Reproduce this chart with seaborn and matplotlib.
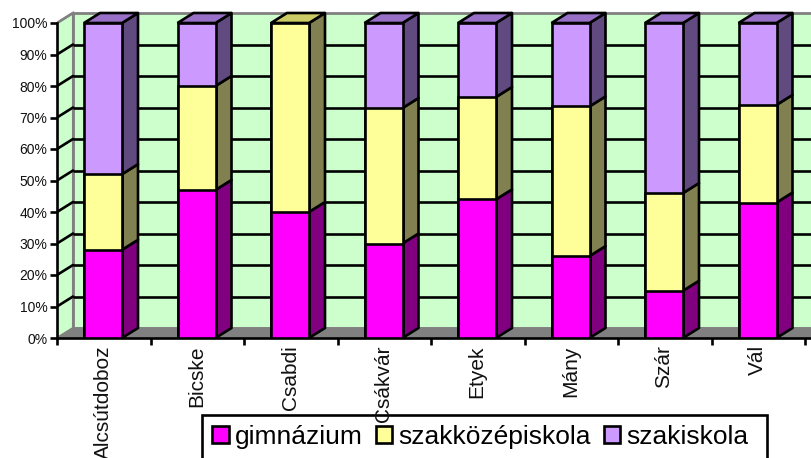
# -*- coding: utf-8 -*-
import pandas as pd
import seaborn as sns
import matplotlib.pyplot as plt
from matplotlib.patches import Polygon, Rectangle

# adatok
telepules = ['Alcsútdoboz', 'Bicske', 'Csabdi', 'Csákvár', 'Etyek', 'Mány', 'Szár', 'Vál']
gimnazium = [28, 47, 40, 30, 44, 26, 15, 43]
szakkozep = [24, 33, 60, 43, 32.5, 47.5, 31, 31]
szakiskola = [48, 20, 0, 27, 23.5, 26.5, 54, 26]
yticks = list(range(0, 101, 10))

series = ['gimnázium', 'szakközépiskola', 'szakiskola']
front = ['#FF00FF', '#FFFF99', '#CC99FF']
side = ['#800080', '#808050', '#604A80']
top = ['#CC00CC', '#CCCC66', '#9970C8']

W, H = 811, 458
sns.set_style('white')
plt.rcParams['font.family'] = ['Liberation Sans', 'DejaVu Sans']

fig = plt.figure(figsize=(W / 100, H / 100), dpi=100)
ax = fig.add_axes([57 / W, 1 - 338 / H, 1 - 57 / W, 338 / H])

cat_w = 93.5
unit = 3.15
dx = 16 / cat_w  # melyseg
dy = 10 / unit
bar_w = 38 / cat_w
lw = 1.9

df = pd.DataFrame({'telepules': telepules, 'g': gimnazium, 'k': szakkozep, 's': szakiskola})
df['k2'] = df['g'] + df['k']
df['s2'] = df['k2'] + df['s']

# 100%-os halmozott oszlop: hatulrol elore rajzolva
for col, c in zip(['s2', 'k2', 'g'], [front[2], front[1], front[0]]):
    sns.barplot(data=df, x='telepules', y=col, color=c, width=bar_w, saturation=1,
                edgecolor='black', linewidth=lw, ax=ax, zorder=5)

ax.set_xlim(-0.5, -0.5 + (W - 57) / cat_w)
ax.set_ylim(0, 338 / unit)

x0, x1 = ax.get_xlim()
# hatso fal, oldalfal, padlo
ax.add_patch(Rectangle((x0 + dx, dy), x1 - x0, 100, fc='#CCFFCC', ec='#808080', lw=2, zorder=1))
ax.add_patch(Polygon([(x0, 0), (x0 + dx, dy), (x0 + dx, 100 + dy), (x0, 100)],
                     fc='#CCFFCC', ec='#808080', lw=1.5, zorder=1))
ax.add_patch(Polygon([(x0, 0), (x0 + dx, dy), (x1 + 1, dy), (x1 + 1, 0)],
                     fc='#808080', ec='#808080', lw=1, zorder=1.5))

for v in yticks[1:-1]:
    ax.plot([x0 + dx, x1], [v + dy, v + dy], color='black', lw=lw, zorder=2, solid_capstyle='butt')
for v in yticks[1:]:
    ax.plot([x0, x0 + dx], [v, v + dy], color='black' if v < 100 else '#808080', lw=lw, zorder=2)

# oszlopok oldala es teteje
for i in range(len(telepules)):
    l, r = i - bar_w / 2 - 0.008, i + bar_w / 2 - 0.008
    base = 0
    for vals, fc_s, fc_t in zip([gimnazium, szakkozep, szakiskola], side, top):
        v = vals[i]
        if v > 0:
            ax.add_patch(Polygon([(r, base), (r + dx, base + dy), (r + dx, base + v + dy), (r, base + v)],
                                 fc=fc_s, ec='black', lw=lw, zorder=4, joinstyle='round'))
        base += v
        if v > 0:
            last = fc_t
    ax.add_patch(Polygon([(l, base), (l + dx, base + dy), (r + dx, base + dy), (r, base)],
                         fc=last, ec='black', lw=lw, zorder=4))

for b in ax.patches:
    if isinstance(b, Rectangle) and b.get_zorder() == 5:
        b.set_x(b.get_x() - 0.008)

ax.set_yticks(yticks)
ax.set_yticklabels([f'{v}%' for v in yticks], fontsize=10, color='#111111')
ax.set_xticks([k - 0.5 for k in range(9)])
ax.set_xticklabels([])
ax.tick_params(axis='both', length=5, width=lw, color='black', left=True, bottom=True, pad=2)
ax.set_xlabel('')
ax.set_ylabel('')
sns.despine(ax=ax, top=True, right=True)
ax.spines['left'].set_bounds(0, 100)
ax.spines['left'].set_linewidth(lw)
ax.spines['left'].set_color('black')
ax.spines['bottom'].set_linewidth(lw)
ax.spines['bottom'].set_color('black')

for i, name in enumerate(telepules):
    ax.annotate(name, (i - 0.008, 0), xytext=(0, -5.2), textcoords='offset points',
                rotation=90, ha='center', va='top', fontsize=15, color='#111111',
                annotation_clip=False, zorder=3)

# jelmagyarazat: a keret a kep aljan tullog, ezert kulon teglalap
fig.add_artist(Rectangle((202 / W, -0.03), 565 / W, 1 - 415 / H + 0.03, transform=fig.transFigure,
                         fc='white', ec='black', lw=lw, zorder=-2))
handles = [Rectangle((0, 0), 1, 1, fc=c, ec='black', lw=lw) for c in front]
leg = fig.legend(handles, series, loc='upper left', bbox_to_anchor=(203 / W, 1 - 416 / H),
                 ncol=3, fontsize=19, frameon=False, borderpad=0.35, columnspacing=0.5,
                 handlelength=0.62, handleheight=0.62, handletextpad=0.23, borderaxespad=0,
                 labelcolor='black')

fig.savefig('out.png', dpi=100)
